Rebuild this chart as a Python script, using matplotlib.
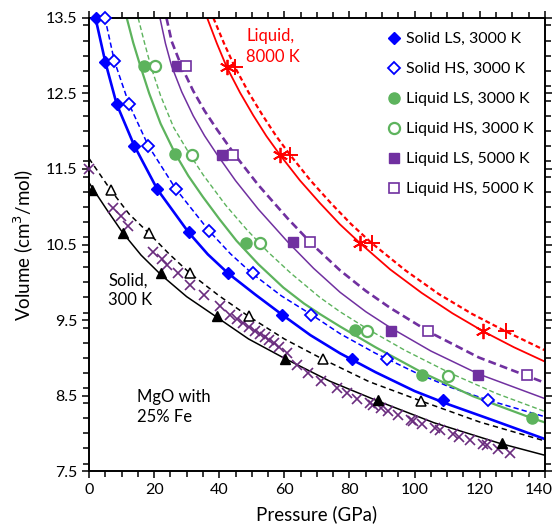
import matplotlib
matplotlib.use("Agg")
import matplotlib.pyplot as plt
import matplotlib.transforms as mtransforms
from matplotlib.ticker import MultipleLocator

plt.rcParams["font.family"] = ["Lato", "DejaVu Sans"]

# --- colours ---
BLUE = "#0000FF"
GREEN = "#5DB35D"
PURPLE = "#7030A0"
RED = "#FF0000"
BLACK = "#000000"
CROSS = "#6A2C7E"

X_TICKS = [0, 20, 40, 60, 80, 100, 120, 140]
Y_TICKS = [7.5, 8.5, 9.5, 10.5, 11.5, 12.5, 13.5]

# --- computed points (markers) ---
SOLID_LS_P = [2.3, 5.0, 8.5, 13.9, 21.0, 30.6, 42.6, 59.4, 80.7, 108.8]
SOLID_LS_V = [13.50, 12.92, 12.36, 11.81, 11.23, 10.66, 10.12, 9.57, 8.99, 8.44]
SOLID_HS_P = [4.9, 7.8, 12.3, 18.2, 26.6, 36.9, 50.3, 68.3, 91.4, 122.6]
SOLID_HS_V = [13.50, 12.93, 12.36, 11.81, 11.24, 10.68, 10.12, 9.57, 8.98, 8.44]
LIQ3_LS_P = [16.9, 26.4, 48.3, 81.6, 102.3, 136.1]
LIQ3_LS_V = [12.86, 11.70, 10.52, 9.37, 8.77, 8.20]
LIQ3_HS_P = [20.4, 31.6, 52.5, 85.5, 110.1]
LIQ3_HS_V = [12.86, 11.69, 10.52, 9.35, 8.76]
LIQ5_LS_P = [27.1, 40.7, 62.7, 92.7, 119.6]
LIQ5_LS_V = [12.86, 11.69, 10.53, 9.35, 8.77]
LIQ5_HS_P = [29.8, 44.3, 67.8, 104.0, 134.5]
LIQ5_HS_V = [12.86, 11.69, 10.53, 9.35, 8.77]
LIQ8_LS_P = [42.3, 58.6, 83.2, 121.1]
LIQ8_LS_V = [12.85, 11.69, 10.52, 9.35]
LIQ8_HS_P = [44.8, 61.7, 86.8, 128.0]
LIQ8_HS_V = [12.85, 11.69, 10.52, 9.35]
COLD_LS_P = [1.0, 10.3, 22.1, 39.2, 60.2, 88.7, 126.9]
COLD_LS_V = [11.22, 10.65, 10.12, 9.55, 8.99, 8.44, 7.87]
COLD_HS_P = [6.7, 18.4, 31.0, 49.0, 71.9, 101.9]
COLD_HS_V = [11.22, 10.65, 10.12, 9.55, 8.98, 8.43]

# --- experimental data (crosses) ---
EXP_P = [0.0, 7.5, 9.8, 12.1, 19.7, 22.3, 24.0, 27.2, 31.1, 35.2, 40.3, 43.3,
         45.5, 47.4, 49.2, 51.0, 52.5, 54.0, 55.4, 56.8, 58.3, 60.7, 63.8, 67.3,
         71.3, 76.2, 79.2, 82.4, 86.3, 87.3, 89.6, 91.9, 95.0, 98.8, 99.5, 102.3,
         106.2, 107.9, 111.8, 113.5, 117.0, 120.9, 122.2, 125.7, 129.3]
EXP_V = [11.50, 10.98, 10.88, 10.74, 10.40, 10.31, 10.23, 10.12, 9.96, 9.83, 9.68, 9.57,
         9.52, 9.46, 9.41, 9.36, 9.32, 9.28, 9.24, 9.19, 9.14, 9.06, 8.90, 8.80,
         8.69, 8.60, 8.53, 8.46, 8.40, 8.37, 8.33, 8.30, 8.24, 8.18, 8.17, 8.13,
         8.07, 8.04, 7.99, 7.95, 7.91, 7.86, 7.84, 7.79, 7.74]

# --- fitted curves ---
FIT_SOLID_LS_P = [2.0, 5.0, 8.5, 13.9, 21.0, 30.6, 36.5, 42.7, 51.0, 59.5, 68.0, 77.1,
                  88.0, 100.0, 110.0, 124.0, 140.0]
FIT_SOLID_LS_V = [13.5, 12.92, 12.36, 11.81, 11.23, 10.66, 10.37, 10.12, 9.84, 9.565, 9.30, 9.06,
                  8.81, 8.56, 8.39, 8.175, 7.925]
FIT_SOLID_HS_P = [4.9, 7.8, 12.3, 18.2, 26.6, 36.9, 43.5, 50.0, 59.1, 68.2, 77.1, 88.0,
                  100.0, 111.0, 122.6, 140.0]
FIT_SOLID_HS_V = [13.5, 12.93, 12.36, 11.81, 11.24, 10.68, 10.375, 10.12, 9.82, 9.575, 9.32, 9.06,
                  8.81, 8.61, 8.44, 8.22]
FIT_LIQ3_LS_P = [11.6, 13.6, 15.8, 18.5, 22.0, 26.4, 30.5, 35.0, 40.0, 45.3, 52.0, 59.7,
                 66.0, 70.9, 77.1, 88.0, 102.1, 118.0, 136.1, 140.0]
FIT_LIQ3_LS_V = [13.5, 13.17, 12.86, 12.50, 12.10, 11.71, 11.41, 11.13, 10.84, 10.55, 10.24, 9.93,
                 9.72, 9.58, 9.415, 9.14, 8.81, 8.49, 8.20, 8.145]
FIT_LIQ3_HS_P = [15.1, 17.0, 19.0, 22.0, 26.0, 31.0, 35.1, 42.0, 48.4, 55.0, 62.0, 70.9,
                 77.1, 85.6, 97.0, 110.8, 125.0, 140.0]
FIT_LIQ3_HS_V = [13.5, 13.18, 12.86, 12.47, 12.05, 11.69, 11.42, 11.02, 10.70, 10.40, 10.12, 9.80,
                 9.61, 9.38, 9.10, 8.80, 8.53, 8.29]
FIT_LIQ5_LS_P = [21.8, 23.5, 25.4, 28.5, 32.0, 35.5, 39.2, 45.0, 52.0, 61.0, 69.0, 77.1,
                 85.0, 92.5, 105.0, 119.7, 140.0]
FIT_LIQ5_LS_V = [13.5, 13.16, 12.86, 12.52, 12.205, 11.94, 11.70, 11.346, 10.968, 10.536, 10.184, 9.868,
                 9.611, 9.401, 9.09, 8.785, 8.46]
FIT_LIQ5_HS_P = [23.8, 25.4, 28.5, 32.0, 35.5, 39.2, 45.0, 52.0, 61.0, 69.0, 77.1, 85.0,
                 92.5, 105.0, 119.7, 140.0]
FIT_LIQ5_HS_V = [13.5, 13.19, 12.85, 12.535, 12.27, 12.03, 11.676, 11.288, 10.846, 10.484, 10.158, 9.886,
                 9.661, 9.33, 9.005, 8.67]
FIT_LIQ8_LS_P = [36.3, 39.3, 42.3, 46.4, 50.45, 54.5, 58.6, 64.75, 70.9, 77.0, 83.2, 92.5,
                 102.15, 111.6, 121.1, 130.5, 140.0]
FIT_LIQ8_LS_V = [13.5, 13.16, 12.85, 12.51, 12.21, 11.935, 11.69, 11.35, 11.05, 10.77, 10.52, 10.17,
                 9.86, 9.59, 9.35, 9.14, 8.95]
FIT_LIQ8_HS_P = [38.2, 41.5, 44.8, 49.0, 53.25, 57.5, 61.7, 68.0, 74.25, 80.5, 86.8, 97.1,
                 107.4, 117.7, 128.0, 140.0]
FIT_LIQ8_HS_V = [13.5, 13.16, 12.85, 12.515, 12.215, 11.935, 11.69, 11.35, 11.05, 10.77, 10.52, 10.16,
                 9.845, 9.58, 9.35, 9.10]
FIT_COLD_LS_P = [0.0, 1.5, 5.5, 10.3, 16.0, 22.1, 30.0, 39.2, 49.0, 60.2, 74.0, 88.6,
                 106.0, 126.0, 140.0]
FIT_COLD_LS_V = [11.32, 11.22, 10.96, 10.66, 10.36, 10.10, 9.81, 9.54, 9.25, 8.99, 8.69, 8.43,
                 8.14, 7.87, 7.71]
FIT_COLD_HS_P = [0.0, 6.7, 12.3, 18.4, 24.5, 31.0, 40.0, 49.0, 60.0, 71.9, 86.0, 101.9,
                 120.0, 140.0]
FIT_COLD_HS_V = [11.64, 11.22, 10.905, 10.65, 10.38, 10.12, 9.82, 9.55, 9.25, 8.98, 8.685, 8.43,
                 8.15, 7.90]

fig = plt.figure(figsize=(5.56, 5.27), dpi=100)
ax = fig.add_axes([0.160, 0.106, 0.820, 0.860])

# curves
ax.plot(FIT_COLD_LS_P, FIT_COLD_LS_V, color=BLACK, lw=1.1, zorder=2)
ax.plot(FIT_COLD_HS_P, FIT_COLD_HS_V, color=BLACK, lw=1.1, ls=(0, (3.5, 2.5)), zorder=2)
ax.plot(FIT_SOLID_LS_P, FIT_SOLID_LS_V, color=BLUE, lw=1.9, zorder=2)
ax.plot(FIT_SOLID_HS_P, FIT_SOLID_HS_V, color=BLUE, lw=1.1, ls=(0, (3.5, 2.0)), zorder=2)
ax.plot(FIT_LIQ3_LS_P, FIT_LIQ3_LS_V, color=GREEN, lw=1.6, zorder=2)
ax.plot(FIT_LIQ3_HS_P, FIT_LIQ3_HS_V, color=GREEN, lw=1.0, ls=(0, (3.5, 2.0)), zorder=2)
ax.plot(FIT_LIQ5_LS_P, FIT_LIQ5_LS_V, color=PURPLE, lw=1.1, zorder=2)
ax.plot(FIT_LIQ5_HS_P, FIT_LIQ5_HS_V, color=PURPLE, lw=1.9, ls=(0, (3.0, 1.6)), zorder=2)
ax.plot(FIT_LIQ8_LS_P, FIT_LIQ8_LS_V, color=RED, lw=1.3, zorder=2)
ax.plot(FIT_LIQ8_HS_P, FIT_LIQ8_HS_V, color=RED, lw=1.6, ls=(0, (2.2, 1.4)), zorder=2)

# experiment
ax.plot(EXP_P, EXP_V, ls="none", marker="x", ms=6.5, mew=1.2, color=CROSS, zorder=3,
        clip_on=False)

# computed points
ax.plot(COLD_LS_P, COLD_LS_V, ls="none", marker="^", ms=7, color=BLACK, zorder=4)
ax.plot(COLD_HS_P, COLD_HS_V, ls="none", marker="^", ms=7, mfc="white", mec=BLACK,
        mew=1.1, zorder=4)
ax.plot(LIQ8_LS_P, LIQ8_LS_V, ls="none", marker=(6, 2, 0), ms=11, mew=1.3, color=RED, zorder=4)
ax.plot(LIQ8_HS_P, LIQ8_HS_V, ls="none", marker="+", ms=11, mew=1.4, color=RED, zorder=4)

h_sls, = ax.plot(SOLID_LS_P, SOLID_LS_V, ls="none", marker="D", ms=6.5, color=BLUE,
                 zorder=5, clip_on=False, label="Solid LS, 3000 K")
h_shs, = ax.plot(SOLID_HS_P, SOLID_HS_V, ls="none", marker="D", ms=6.5, mfc="white",
                 mec=BLUE, mew=1.3, zorder=5, clip_on=False, label="Solid HS, 3000 K")
h_l3l, = ax.plot(LIQ3_LS_P, LIQ3_LS_V, ls="none", marker="o", ms=8, color=GREEN,
                 zorder=5, label="Liquid LS, 3000 K")
h_l3h, = ax.plot(LIQ3_HS_P, LIQ3_HS_V, ls="none", marker="o", ms=8, mfc="white",
                 mec=GREEN, mew=1.6, zorder=5, label="Liquid HS, 3000 K")
h_l5l, = ax.plot(LIQ5_LS_P, LIQ5_LS_V, ls="none", marker="s", ms=7.5, color=PURPLE,
                 zorder=5, label="Liquid LS, 5000 K")
h_l5h, = ax.plot(LIQ5_HS_P, LIQ5_HS_V, ls="none", marker="s", ms=7.5, mfc="white",
                 mec=PURPLE, mew=1.2, zorder=5, label="Liquid HS, 5000 K")

ax.legend(handles=[h_sls, h_shs, h_l3l, h_l3h, h_l5l, h_l5h], loc="upper left",
          bbox_to_anchor=(0.635, 0.99), frameon=False, fontsize=11.5, handlelength=0.7,
          handletextpad=0.4, labelspacing=0.99, borderaxespad=0.2)

# labels inside
ax.text(48.3, 13.36, "Liquid,\n8000 K", color=RED, fontsize=12, va="top", ha="left",
        linespacing=1.38)
ax.text(5.9, 10.13, "Solid,\n300 K", color=BLACK, fontsize=12, va="top", ha="left",
        linespacing=1.25)
ax.text(14.6, 8.59, "MgO with\n25% Fe", color=BLACK, fontsize=12, va="top", ha="left",
        linespacing=1.35)

ax.set_xlim(0, 140)
ax.set_ylim(7.5, 13.5)
ax.set_xticks(X_TICKS)
ax.xaxis.set_minor_locator(MultipleLocator(5))
ax.set_yticks(Y_TICKS)
ax.yaxis.set_minor_locator(MultipleLocator(0.2))
ax.tick_params(which="both", direction="out", top=True, right=True, width=1.1,
               labelsize=11.5, color=BLACK)
ax.tick_params(which="major", length=5)
ax.tick_params(which="minor", length=4.5)
for s in ax.spines.values():
    s.set_linewidth(1.4)

# nudge the "140" label a little so it stays inside the canvas
last = ax.xaxis.get_major_ticks()[len(X_TICKS) - 1].label1
shift = mtransforms.ScaledTranslation(-6 / 100, 0, fig.dpi_scale_trans)
last.set_transform(last.get_transform() + shift)

ax.set_xlabel("Pressure (GPa)", fontsize=13.5, labelpad=6)
ax.set_ylabel("Volume (cm$^3$/mol)", fontsize=13.5, labelpad=7)

fig.savefig("out.png", dpi=100)
